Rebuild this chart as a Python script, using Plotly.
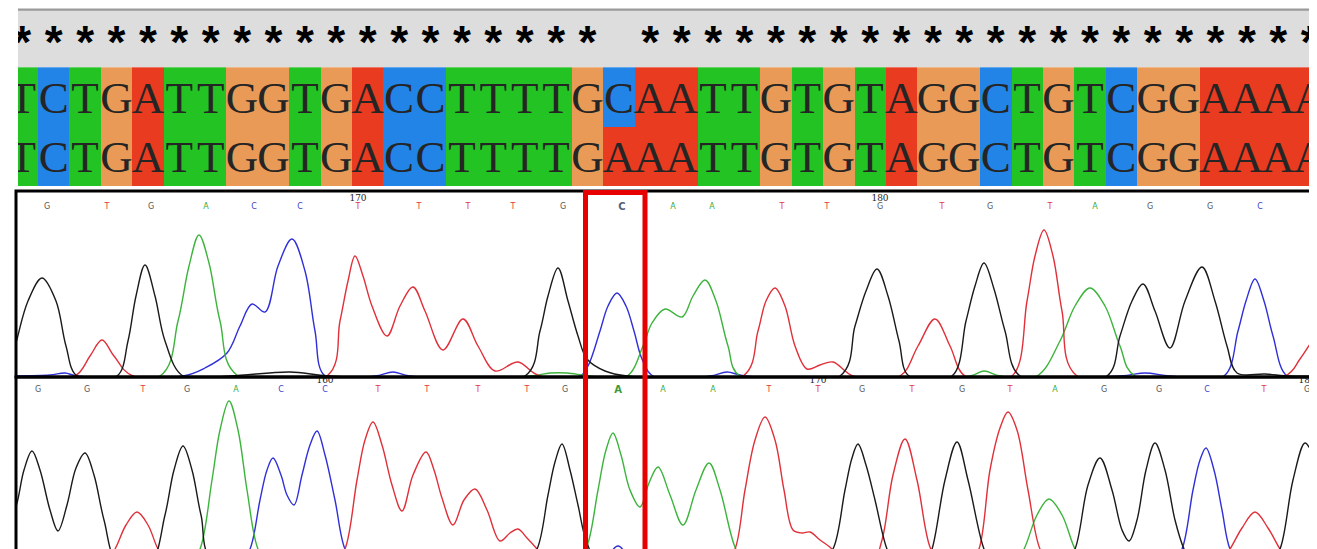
import plotly.graph_objects as go

# ---------------- data ----------------
ref_seq = "TCTGATTGGTGACCTTTTGCAATTGTGTAGGCTGTCGGAAAA"
smp_seq = "TCTGATTGGTGACCTTTTGAAATTGTGTAGGCTGTCGGAAAA"
base_code = {"A": 0, "C": 1, "G": 2, "T": 3}

# chromatogram base calls (x = scan position)
p1_bases = list("GTGACCTTTTGCAATTGTGTAGGC")
p1_base_x = [47, 107, 151, 206, 254, 300, 358, 419, 468, 513, 563, 622, 673, 712,
             782, 827, 880, 942, 990, 1050, 1095, 1150, 1210, 1260]
p1_pos_labels = ["170", "180"]
p1_pos_x = [358, 880]

p2_bases = list("GGTGACCTTTTGAAATTGTGTAGGCTG")
p2_base_x = [38, 87, 143, 187, 236, 281, 325, 378, 427, 478, 527, 565, 618, 663, 713,
             769, 818, 862, 912, 962, 1010, 1055, 1104, 1159, 1207, 1264, 1307]
p2_pos_labels = ["160", "170", "180"]
p2_pos_x = [325, 818, 1307]

# panel 1 traces (scan position, signal)
p1_G_x = [8, 16, 28, 42, 56, 66, 77, 117, 128, 136, 145, 155, 165, 183, 230, 290, 330,
          525, 540, 548, 558, 568, 578, 587, 605, 627, 840, 855, 866, 877, 888, 899, 909,
          952, 966, 975, 984, 994, 1005, 1020, 1107, 1120, 1132, 1143, 1155, 1170, 1185,
          1202, 1215, 1227, 1237, 1265, 1290, 1318]
p1_G_y = [4, 34, 76, 99, 76, 31, 1, 1, 36, 81, 112, 81, 36, 1, 1, 5, 1,
          1, 46, 81, 109, 76, 41, 18, 6, 1, 1, 51, 86, 108, 81, 36, 1,
          1, 56, 91, 114, 88, 46, 1, 1, 41, 76, 93, 66, 29, 76,
          110, 76, 31, 4, 3, 1, 1]

p1_T_x = [8, 75, 90, 102, 114, 133, 327, 340, 348, 355, 363, 372, 387, 400, 413, 425,
          443, 463, 478, 495, 518, 540, 743, 758, 766, 775, 785, 795, 807, 820, 833, 853,
          900, 918, 935, 950, 965, 1012, 1027, 1035, 1044, 1053, 1062, 1077, 1285, 1300,
          1310, 1318]
p1_T_y = [1, 1, 21, 37, 21, 1, 1, 56, 96, 121, 101, 71, 41, 71, 90, 66,
          27, 58, 31, 6, 15, 1, 1, 46, 76, 89, 71, 31, 8, 12, 15, 1,
          1, 31, 58, 31, 1, 1, 76, 121, 147, 121, 66, 1, 1, 18,
          33, 46]

p1_A_x = [8, 160, 178, 189, 199, 209, 220, 238, 530, 550, 567, 590, 627, 643, 652, 665,
          682, 693, 705, 716, 728, 740, 970, 984, 1000, 1037, 1060, 1075, 1090, 1105, 1120,
          1135, 1318]
p1_A_y = [1, 1, 56, 111, 142, 114, 56, 1, 1, 4, 4, 1, 1, 31, 54, 68,
          60, 81, 97, 76, 31, 1, 1, 6, 1, 1, 36, 71, 89, 71, 31,
          1, 1]

p1_C_x = [8, 50, 65, 77, 183, 205, 227, 240, 252, 265, 278, 292, 305, 315, 325, 375, 393,
          410, 580, 588, 600, 608, 617, 626, 634, 642, 653, 710, 727, 745, 1120, 1145, 1170,
          1224, 1238, 1246, 1255, 1264, 1273, 1287, 1318]
p1_C_y = [1, 2, 4, 1, 1, 9, 24, 51, 73, 65, 111, 138, 106, 46, 1, 1, 5,
          1, 1, 11, 46, 71, 84, 71, 46, 18, 1, 1, 5, 1, 1, 4, 1,
          1, 46, 76, 98, 76, 41, 1, 1]

# panel 2 traces (scan position, signal)
p2_G_x = [8, 17, 24, 32, 40, 50, 58, 67, 76, 85, 94, 104, 118, 150, 165, 174, 183, 192,
          201, 215, 525, 537, 548, 555, 562, 570, 578, 587, 600, 820, 833, 845, 852, 858,
          866, 875, 887, 895, 925, 932, 945, 957, 968, 984, 992, 1065, 1075, 1088, 1100,
          1112, 1122, 1129, 1137, 1146, 1155, 1165, 1175, 1184, 1192, 1270, 1280, 1293,
          1305, 1313, 1320]
p2_G_y = [33, 60, 93, 112, 93, 53, 32, 58, 95, 110, 88, 43, 0, 0, 48, 93, 117, 93,
          48, 0, 0, 14, 68, 101, 119, 93, 58, 20, 0, 0, 14, 73, 105, 119,
          98, 63, 14, 0, 0, 14, 83, 121, 83, 14, 0, 0, 14, 78, 105,
          73, 33, 22, 43, 93, 120, 93, 43, 14, 0, 0, 14, 83,
          120, 108, 83]

p2_T_x = [8, 105, 115, 126, 137, 148, 158, 168, 335, 345, 357, 365, 373, 382, 392, 402,
          413, 426, 434, 442, 453, 464, 475, 487, 500, 510, 518, 527, 537, 548, 725, 735,
          745, 755, 765, 775, 784, 793, 802, 810, 820, 832, 842, 872, 882, 893, 905, 917,
          930, 940, 970, 979, 990, 1000, 1008, 1017, 1028, 1040, 1050, 1220, 1230, 1242,
          1255, 1268, 1280, 1290, 1320]
p2_T_y = [0, 0, 14, 38, 51, 38, 14, 0, 0, 14, 83, 123, 141, 118, 78, 52,
          88, 111, 93, 65, 38, 63, 74, 53, 22, 30, 34, 25, 14, 0, 0, 14,
          73, 123, 146, 123, 73, 33, 30, 31, 23, 14, 0, 0, 23, 88, 124, 83,
          16, 0, 0, 14, 93, 135, 151, 133, 73, 14, 0, 0, 14, 35,
          51, 35, 14, 0, 0]

p2_A_x = [8, 190, 200, 212, 220, 229, 238, 247, 258, 268, 578, 588, 598, 606, 613, 621,
          630, 640, 649, 658, 670, 683, 696, 709, 720, 735, 745, 1014, 1024, 1037, 1049,
          1062, 1075, 1085, 1320]
p2_A_y = [0, 0, 14, 83, 133, 162, 133, 73, 14, 0, 0, 20, 73, 113, 130, 108,
          73, 56, 80, 96, 68, 38, 73, 100, 73, 16, 0, 0, 14, 48, 64,
          48, 14, 0, 0]

p2_C_x = [8, 240, 250, 260, 267, 273, 281, 287, 294, 302, 310, 317, 325, 335, 345, 355,
          600, 618, 636, 1172, 1182, 1193, 1200, 1206, 1214, 1222, 1230, 1240, 1320]
p2_C_y = [0, 0, 14, 63, 93, 105, 88, 68, 58, 88, 118, 132, 108, 63, 14, 0,
          0, 17, 0, 0, 14, 73, 103, 115, 93, 53, 14, 0, 0]

# ---------------- styles ----------------
cell_colors = {"A": "#e83b1f", "C": "#2184e6", "G": "#e99a56", "T": "#22c322"}
trace_colors = {"G": "#1a1a1a", "T": "#e0303a", "A": "#3cb43c", "C": "#3030d8"}
label_colors = {"G": "#555555", "T": "#e23a3a", "A": "#3aaa3a", "C": "#4040c8"}
box_label_colors = {"C": "#56607a", "A": "#3a9a3a"}

# the page body adds an 8px margin, so the figure is drawn 8px right/down
OFF = 8
W, H = 1317 - OFF, 549 - OFF
col0, colw = 6.6, 31.4          # screen geometry of alignment columns
box_x0, box_x1 = 585.5, 645     # red highlight box (scan units)
n = len(ref_seq)


def sx(s):
    return (s - OFF) / W


def sy(s):
    return 1 - (s - OFF) / H


fig = go.Figure()

# alignment cells
z = [[base_code[b] for b in ref_seq], [base_code[b] for b in smp_seq]]
cs = [[0, cell_colors["A"]], [1/6, cell_colors["A"]], [1/6, cell_colors["C"]], [0.5, cell_colors["C"]],
      [0.5, cell_colors["G"]], [5/6, cell_colors["G"]], [5/6, cell_colors["T"]], [1, cell_colors["T"]]]
fig.add_trace(go.Heatmap(z=z, x=list(range(n)), y=[0, 1], zmin=0, zmax=3, colorscale=cs,
                         showscale=False, hoverinfo="skip", xaxis="x", yaxis="y"))

# letters
for row, seq in enumerate([ref_seq, smp_seq]):
    fig.add_trace(go.Scatter(x=list(range(n)), y=[row + 0.08] * n, mode="text", text=list(seq),
                             textfont=dict(family="Liberation Serif", size=45, color="#252525"),
                             textposition="middle center", hoverinfo="skip", showlegend=False,
                             xaxis="x", yaxis="y"))

# conservation asterisks
match_x = [i for i in range(n) if ref_seq[i] == smp_seq[i]]
fig.add_trace(go.Scatter(x=match_x, y=[-0.85] * len(match_x), mode="text", text=["*"] * len(match_x),
                         textfont=dict(family="Liberation Sans", size=46, color="#000000", weight="bold"),
                         textposition="middle center", hoverinfo="skip", showlegend=False,
                         xaxis="x", yaxis="y"))

# chromatograms
panels = [
    ("x2", "y2", {"G": (p1_G_x, p1_G_y), "T": (p1_T_x, p1_T_y), "A": (p1_A_x, p1_A_y), "C": (p1_C_x, p1_C_y)},
     p1_bases, p1_base_x, p1_pos_labels, p1_pos_x, 170, 178),
    ("x3", "y3", {"G": (p2_G_x, p2_G_y), "T": (p2_T_x, p2_T_y), "A": (p2_A_x, p2_A_y), "C": (p2_C_x, p2_C_y)},
     p2_bases, p2_base_x, p2_pos_labels, p2_pos_x, 173, 182),
]
for xa, ya, curves, bases, bx, plabs, px, ylab, ypos in panels:
    for b in ["C", "A", "T", "G"]:
        cx, cy = curves[b]
        fig.add_trace(go.Scatter(x=cx, y=cy, mode="lines",
                                 line=dict(color=trace_colors[b], width=1.4, shape="spline", smoothing=1.0),
                                 hoverinfo="skip", showlegend=False, xaxis=xa, yaxis=ya))
    inbox = [box_x0 < x < box_x1 for x in bx]
    fig.add_trace(go.Scatter(x=bx, y=[ylab] * len(bx), mode="text", text=bases,
                             textfont=dict(family="DejaVu Sans", size=[10 if f else 8 for f in inbox],
                                           color=[box_label_colors.get(b, label_colors[b]) if f else label_colors[b]
                                                  for b, f in zip(bases, inbox)],
                                           weight=["bold" if f else "normal" for f in inbox]),
                             textposition="middle center", hoverinfo="skip", showlegend=False,
                             xaxis=xa, yaxis=ya))
    fig.add_trace(go.Scatter(x=px, y=[ypos] * len(px), mode="text", text=plabs,
                             textfont=dict(family="DejaVu Serif", size=9, color="#222222"),
                             textposition="middle center", hoverinfo="skip", showlegend=False,
                             xaxis=xa, yaxis=ya))

# ---------------- layout ----------------
bottom_sig = 563 - (OFF + H)     # signal value at the bottom edge of panel 2
ax_off = dict(visible=False, showgrid=False, zeroline=False, fixedrange=True)
fig.update_layout(
    width=W, height=H, margin=dict(l=0, r=0, t=0, b=0),
    paper_bgcolor="white", plot_bgcolor="rgba(0,0,0,0)", showlegend=False,
    xaxis=dict(domain=[sx(18), 1], range=[(18 - col0) / colw - 0.5, (1317 - col0) / colw - 0.5], **ax_off),
    yaxis=dict(domain=[sy(186), sy(8)], range=[1.5, -1.5], **ax_off),
    xaxis2=dict(domain=[sx(16), sx(1311)], range=[16, 1311], anchor="y2", **ax_off),
    yaxis2=dict(domain=[sy(377), sy(191)], range=[0, 186], anchor="x2", **ax_off),
    xaxis3=dict(domain=[sx(16), sx(1311)], range=[16, 1311], anchor="y3", **ax_off),
    yaxis3=dict(domain=[0, sy(377)], range=[bottom_sig, 186], anchor="x3", **ax_off),
    shapes=[
        dict(type="rect", xref="x domain", yref="y", x0=0, x1=1, y0=-1.5, y1=-0.5,
             fillcolor="#dddddd", line_width=0, layer="below"),
        dict(type="line", xref="x domain", yref="y", x0=0, x1=1, y0=-1.47, y1=-1.47,
             line=dict(color="#9a9a9a", width=2)),
        dict(type="rect", xref="x2 domain", yref="y2 domain", x0=0, x1=1, y0=0, y1=1,
             line=dict(color="#000000", width=3)),
        dict(type="rect", xref="x3 domain", yref="paper", x0=0, x1=1, y0=-0.1, y1=sy(377),
             line=dict(color="#000000", width=3)),
        dict(type="rect", xref="x2", yref="paper", x0=box_x0, x1=box_x1, y0=-0.1, y1=sy(192.5),
             line=dict(color="#e60000", width=5)),
    ],
)

fig.write_html("out.html")
